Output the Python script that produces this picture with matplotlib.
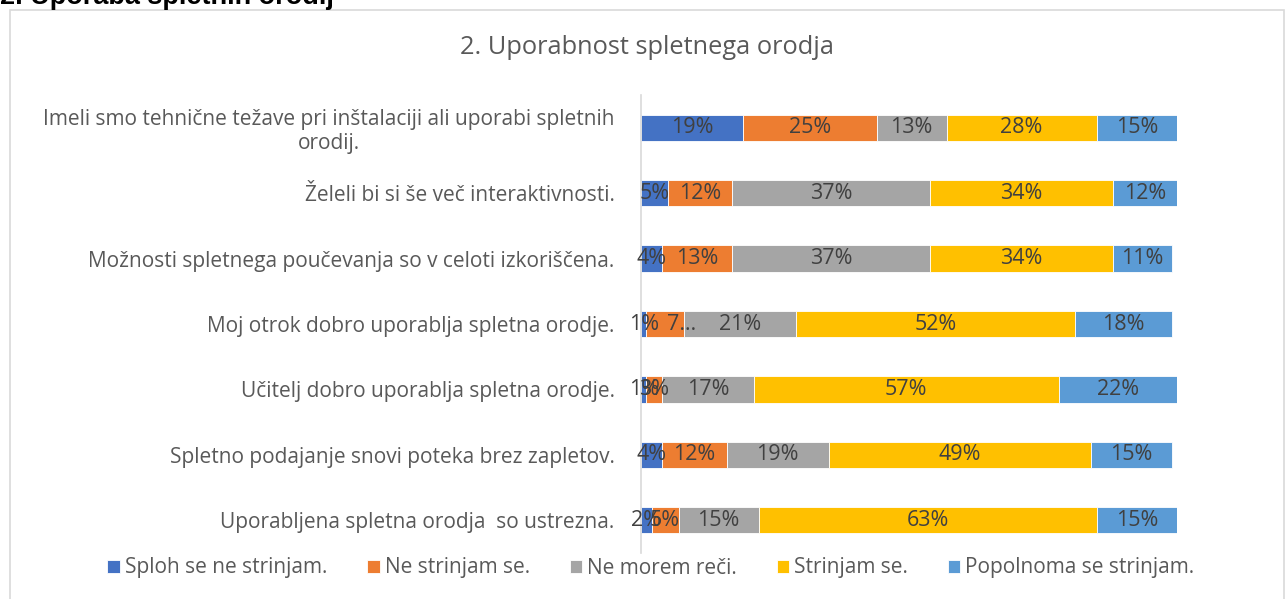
import numpy as np
import matplotlib
matplotlib.use("Agg")
from matplotlib import pyplot as plt
from matplotlib.patches import Rectangle

plt.rcParams['font.family'] = ['Open Sans', 'DejaVu Sans']

# categories, top to bottom as in the chart
categories = [
    "Imeli smo tehnične težave pri inštalaciji ali uporabi spletnih\norodij.",
    "Želeli bi si še več interaktivnosti.",
    "Možnosti spletnega poučevanja so v celoti izkoriščena.",
    "Moj otrok dobro uporablja spletna orodje.",
    "Učitelj dobro uporablja spletna orodje.",
    "Spletno podajanje snovi poteka brez zapletov.",
    "Uporabljena spletna orodja  so ustrezna.",
]
series = ["Sploh se ne strinjam.", "Ne strinjam se.", "Ne morem reči.",
          "Strinjam se.", "Popolnoma se strinjam."]

# percent per series, rows in category order
sploh = [19, 5, 4, 1, 1, 4, 2]
ne = [25, 12, 13, 7, 3, 12, 5]
ne_morem = [13, 37, 37, 21, 17, 19, 15]
strinjam = [28, 34, 34, 52, 57, 49, 63]
popolnoma = [15, 12, 11, 18, 22, 15, 15]

colors = ["#4472C4", "#ED7D31", "#A5A5A5", "#FFC000", "#5B9BD5"]

fig = plt.figure(figsize=(12.85, 5.99), dpi=100)
ax = fig.add_axes([641/1285, 1-553/599, 536/1285, (553-95)/599])

# chart frame and the cut-off heading above it
fig.patches.append(Rectangle((10/1285, -0.1), 1274/1285, 1.1-10/599,
                             transform=fig.transFigure, fill=False,
                             edgecolor="#D9D9D9", lw=1.2))
fig.text(0.0, 1-4/599, "2. Uporaba spletnih orodij", fontsize=19.5,
         fontweight='bold', va='baseline', ha='left', family='Liberation Sans')

y = np.arange(len(categories))
left = np.zeros(len(categories))
for name, vals, col in zip(series, [sploh, ne, ne_morem, strinjam, popolnoma], colors):
    vals = np.array(vals, dtype=float)
    ax.barh(y, vals/100, left=left, height=0.4, color=col, label=name,
            edgecolor='white', linewidth=0.6)
    for i, v in enumerate(vals):
        lab = "%d%%" % v
        xc = left[i] + v/200
        if name == "Ne strinjam se." and i == 3:
            lab = "7…"  # truncated in the original
            xc = left[i] + v/100 - 0.005
        ax.text(xc, y[i], lab, ha='center', va='center',
                fontsize=15.5, color="#404040")
    left += vals/100

ax.set_xlim(0, 1)
ax.set_ylim(len(categories) - 0.5, -0.5)
ax.set_yticks(y)
ax.set_yticklabels(categories, fontsize=15, color="#595959")
ax.get_yticklabels()[0].set_multialignment('center')
ax.tick_params(axis='y', length=0, pad=19)
ax.set_xticks([])
for s in ['top', 'right', 'bottom']:
    ax.spines[s].set_visible(False)
ax.spines['left'].set_color("#D9D9D9")
ax.spines['left'].set_linewidth(1.2)

fig.text(647/1285, 1-47/599, "2. Uporabnost spletnega orodja", ha='center',
         va='center', fontsize=18.3, color="#595959")

fig.legend(loc='center', bbox_to_anchor=(651/1285, 1-568/599), ncol=5,
           frameon=False, fontsize=15, handlelength=0.6, handleheight=0.6,
           handletextpad=0.25, columnspacing=1.9, labelcolor="#595959")

fig.savefig("out.png", dpi=100)
